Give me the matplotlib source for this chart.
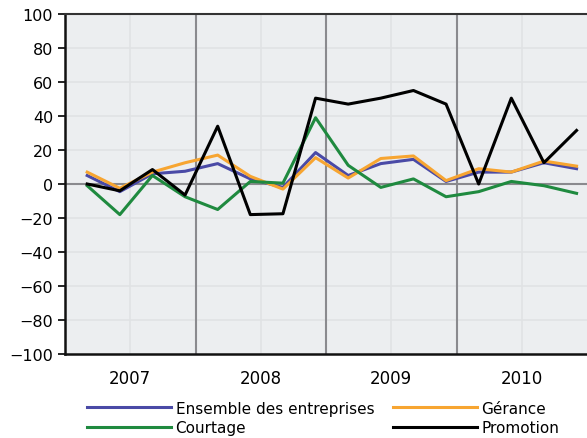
import matplotlib
matplotlib.use("Agg")
import matplotlib.pyplot as plt
from matplotlib.lines import Line2D

# quarterly series, 2007 Q1 .. 2010 Q4
quarters = [
    "2007T1", "2007T2", "2007T3", "2007T4",
    "2008T1", "2008T2", "2008T3", "2008T4",
    "2009T1", "2009T2", "2009T3", "2009T4",
    "2010T1", "2010T2", "2010T3", "2010T4",
]
ensemble = [5, -4.5, 6, 7.5, 12, 3, -2, 18.5, 5, 12, 14.5, 1.5, 7, 7, 12.5, 9]
gerance = [7, -2.5, 7, 12.5, 17, 4.5, -3, 15.5, 3.5, 15, 16.5, 2, 9, 7, 13.5, 10.5]
courtage = [-1, -18, 5, -7.5, -15, 1.5, 0.5, 39, 11, -2, 3, -7.5, -4.5, 1.5, -1, -5.5]
promotion = [0, -4, 8.5, -6.5, 34, -18, -17.5, 50.5, 47, 50.5, 55, 47, 0, 50.5, 12.5, 31.5]
years = [2007, 2008, 2009, 2010]

series = [
    ("Ensemble des entreprises", ensemble, "#4a4aa6"),
    ("Gérance", gerance, "#f7a531"),
    ("Courtage", courtage, "#1f8a3f"),
    ("Promotion", promotion, "#000000"),
]

x = [int(q[:4]) + (int(q[-1]) - 1) / 4 + 0.17 for q in quarters]

plt.rcParams["font.family"] = "DejaVu Sans"
fig = plt.figure(figsize=(5.87, 4.39), dpi=100)
ax = fig.add_axes([65 / 587, 1 - 355 / 439, 1 - 65 / 587, 340 / 439])
ax.set_facecolor("#eceef0")

ax.set_xlim(2007, 2011)
ax.set_ylim(-100, 100)

# light grid
for yv in range(-80, 100, 20):
    ax.axhline(yv, color="#e0e2e4", lw=1.2, zorder=0)
for yr in years:
    ax.axvline(yr + 0.5, color="#e0e2e4", lw=1.2, zorder=0)
for yr in years[1:]:
    ax.axvline(yr, color="#8a8a8e", lw=1.5, zorder=1)
ax.axhline(0, color="#8a8a8e", lw=1.5, zorder=1)

for name, vals, col in series:
    ax.plot(x, vals, color=col, lw=2.2, zorder=3)

ax.set_yticks(range(-100, 101, 20))
ax.tick_params(axis="y", labelsize=11.5, length=5, width=1.2, direction="out")
ax.set_xticks([yr + 0.5 for yr in years])
ax.set_xticklabels([str(yr) for yr in years], fontsize=12)
ax.tick_params(axis="x", length=0, pad=11)

for side in ["left", "bottom"]:
    ax.spines[side].set_linewidth(1.8)
    ax.spines[side].set_color("#111111")
ax.spines["top"].set_linewidth(1.5)
ax.spines["top"].set_color("#333333")
ax.spines["right"].set_visible(False)

# legend is filled column by column, reorder so rows read like the reference
order = [0, 2, 1, 3]
handles = [Line2D([0], [0], color=series[i][2], lw=2.2) for i in order]
labels = [series[i][0] for i in order]
fig.legend(handles, labels, ncol=2, loc="lower left", bbox_to_anchor=(0.13, -0.018),
           frameon=False, fontsize=11, handlelength=5.5, handletextpad=0.3,
           columnspacing=1.2, labelspacing=0.3, borderpad=0.2)

fig.savefig("out.png", dpi=100)
